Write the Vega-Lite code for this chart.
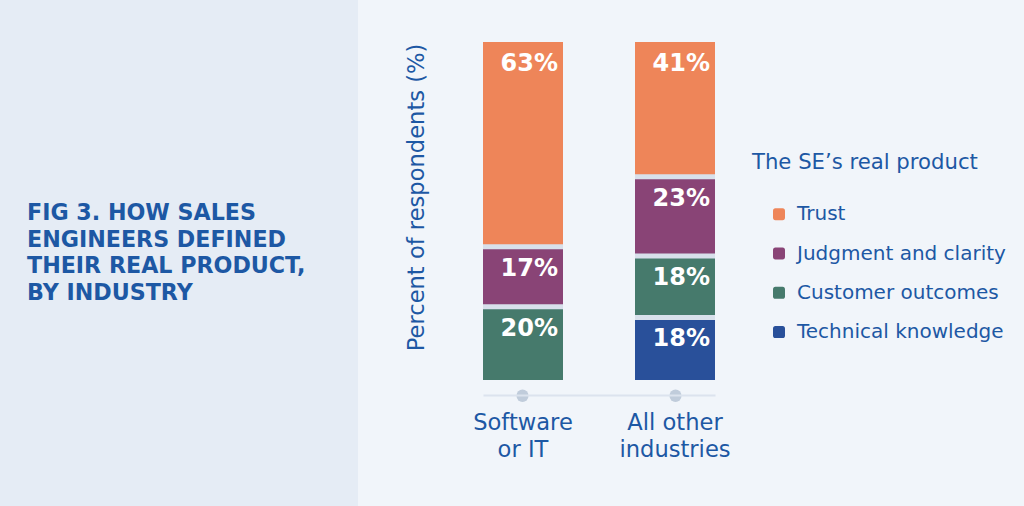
{
  "$schema": "https://vega.github.io/schema/vega-lite/v6.json",
  "description": "How sales engineers defined their real product, by industry.",
  "background": "#f1f5fa",
  "padding": {"left": 0, "top": 0, "right": 18, "bottom": 0},
  "spacing": 47,
  "config": {
    "view": {"stroke": null},
    "font": "DejaVu Sans"
  },
  "hconcat": [
    {
      "width": 358,
      "height": 506,
      "view": {"fill": "#e5ecf5", "stroke": null},
      "data": {"values": [{"t": "FIG 3. HOW SALES\nENGINEERS DEFINED\nTHEIR REAL PRODUCT,\nBY INDUSTRY"}]},
      "mark": {
        "type": "text",
        "align": "left",
        "baseline": "middle",
        "lineBreak": "\n",
        "lineHeight": 26.7,
        "dx": -152,
        "dy": -40,
        "font": "DejaVu Sans",
        "fontWeight": "bold",
        "fontSize": 22.2,
        "color": "#1d58a4"
      },
      "encoding": {"text": {"field": "t"}}
    },
    {
      "width": 232,
      "height": 380,
      "data": {
        "values": [
          {"industry": "Software or IT", "answer": "Trust", "share": 0.606, "label": "63%", "rank": 4},
          {"industry": "Software or IT", "answer": "Judgment and clarity", "share": 0.177, "label": "17%", "rank": 3},
          {"industry": "Software or IT", "answer": "Customer outcomes", "share": 0.217, "label": "20%", "rank": 2},
          {"industry": "All other industries", "answer": "Trust", "share": 0.399, "label": "41%", "rank": 4},
          {"industry": "All other industries", "answer": "Judgment and clarity", "share": 0.234, "label": "23%", "rank": 3},
          {"industry": "All other industries", "answer": "Customer outcomes", "share": 0.182, "label": "18%", "rank": 2},
          {"industry": "All other industries", "answer": "Technical knowledge", "share": 0.185, "label": "18%", "rank": 1}
        ]
      },
      "transform": [
        {
          "stack": "share",
          "groupby": ["industry"],
          "sort": [{"field": "rank", "order": "ascending"}],
          "as": ["y0", "y1"]
        }
      ],
      "encoding": {
        "x": {
          "field": "industry",
          "type": "nominal",
          "sort": ["Software or IT", "All other industries"],
          "scale": {"paddingInner": 0.4737, "paddingOuter": 0},
          "axis": {
            "title": null,
            "offset": 15,
            "domainColor": "#dce3ee",
            "domainWidth": 2,
            "tickColor": "#c0ccdb",
            "tickWidth": 12,
            "tickCap": "round",
            "tickSize": 0.5,
            "labelAngle": 0,
            "labelFontSize": 22.6,
            "labelColor": "#1d58a4",
            "labelPadding": 16,
            "labelLineHeight": 27,
            "labelBaseline": "top",
            "labelExpr": "datum.value == 'Software or IT' ? ['Software', 'or IT'] : ['All other', 'industries']"
          }
        },
        "y": {
          "field": "y1",
          "type": "quantitative",
          "scale": {"domain": [0, 1.1243], "nice": false, "zero": true},
          "axis": {
            "title": "Percent of respondents (%)",
            "labels": false,
            "ticks": false,
            "domain": false,
            "grid": false,
            "titleFontSize": 22.6,
            "titleFontWeight": "normal",
            "titleColor": "#1d58a4",
            "titlePadding": 55,
            "titleY": 197
          }
        }
      },
      "layer": [
        {
          "mark": {"type": "bar"},
          "encoding": {
            "y2": {"field": "y0"},
            "color": {
              "field": "answer",
              "type": "nominal",
              "scale": {
                "domain": ["Trust", "Judgment and clarity", "Customer outcomes", "Technical knowledge"],
                "range": ["#ee8559", "#894476", "#467a6c", "#29509a"]
              },
              "legend": {
                "orient": "none",
                "legendX": 752,
                "legendY": 152,
                "padding": 0,
                "title": "The SE’s real product",
                "titleFontSize": 21.2,
                "titleFontWeight": "normal",
                "titleColor": "#1d58a4",
                "titlePadding": 31,
                "titleLimit": 400,
                "labelFontSize": 20,
                "labelColor": "#1d58a4",
                "labelLimit": 400,
                "labelOffset": 8,
                "rowPadding": 19.3,
                "symbolOffset": 17,
                "symbolSize": 144,
                "symbolStrokeWidth": 0,
                "symbolType": "M-1,-0.6 C-1,-0.85 -0.85,-1 -0.6,-1 L0.6,-1 C0.85,-1 1,-0.85 1,-0.6 L1,0.6 C1,0.85 0.85,1 0.6,1 L-0.6,1 C-0.85,1 -1,0.85 -1,0.6 Z"
              }
            }
          }
        },
        {
          "transform": [{"filter": "datum.y1 < 0.995"}],
          "mark": {"type": "tick", "orient": "horizontal", "thickness": 5, "size": 80, "color": "#d8e0eb", "opacity": 1},
          "encoding": {}
        },
        {
          "mark": {
            "type": "text",
            "align": "right",
            "baseline": "middle",
            "dx": 35,
            "dy": 22,
            "fontSize": 24,
            "fontWeight": "bold",
            "color": "white"
          },
          "encoding": {
            "text": {"field": "label", "type": "nominal"}
          }
        }
      ]
    }
  ]
}
